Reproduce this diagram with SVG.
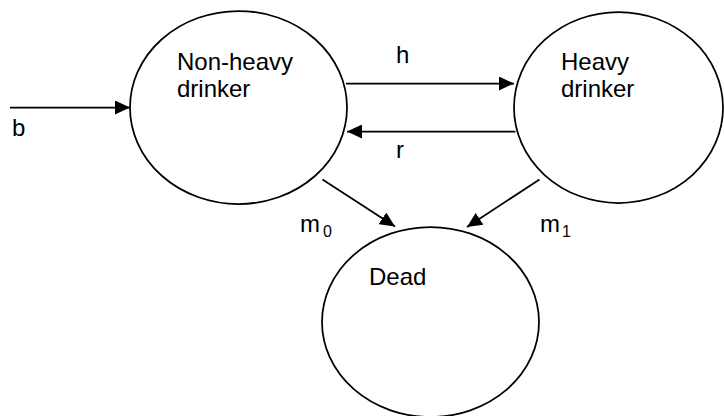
<svg xmlns="http://www.w3.org/2000/svg" width="724" height="416" viewBox="0 0 724 416">
<style>
.n{fill:#fff;stroke:#000;stroke-width:1.75}
.c{stroke:#000;stroke-width:1.75;fill:none}
text{font-family:"Liberation Sans",Arial,sans-serif;font-size:24px;fill:#000}
.s{font-size:16px}
</style>
<defs>
<marker id="ah" viewBox="0 0 15 14" refX="15" refY="7" markerWidth="15" markerHeight="14" markerUnits="userSpaceOnUse" orient="auto"><path d="M0,0 L15,7 L0,14 z" fill="#000"/></marker>
</defs>
<rect width="724" height="416" fill="#fff"/>
<g id="node-nonheavy">
<ellipse class="n" cx="238.5" cy="107.5" rx="108.5" ry="96.5"/>
<text x="177" y="70">Non-heavy</text>
<text x="177" y="97">drinker</text>
</g>
<g id="node-heavy">
<ellipse class="n" cx="618.5" cy="107.5" rx="104.5" ry="95.5"/>
<text x="561" y="70">Heavy</text>
<text x="561" y="97">drinker</text>
</g>
<g id="node-dead">
<ellipse class="n" cx="430.5" cy="322" rx="108.5" ry="95"/>
<text x="369" y="285">Dead</text>
</g>
<g id="connectors">
<line class="c" x1="10" y1="107.5" x2="130" y2="107.5" marker-end="url(#ah)"/>
<line class="c" x1="346" y1="83.5" x2="514" y2="83.5" marker-end="url(#ah)"/>
<line class="c" x1="515.5" y1="131.5" x2="347" y2="131.5" marker-end="url(#ah)"/>
<line class="c" x1="322.5" y1="179.5" x2="395" y2="226.5" marker-end="url(#ah)"/>
<line class="c" x1="539.5" y1="179.5" x2="467" y2="227" marker-end="url(#ah)"/>
<text x="12" y="136">b</text>
<text x="396" y="63">h</text>
<text x="396" y="158">r</text>
<text x="300" y="232">m</text><text class="s" x="323" y="236.5">0</text>
<text x="540" y="232">m</text><text class="s" x="562" y="236.5">1</text>
</g>
</svg>
